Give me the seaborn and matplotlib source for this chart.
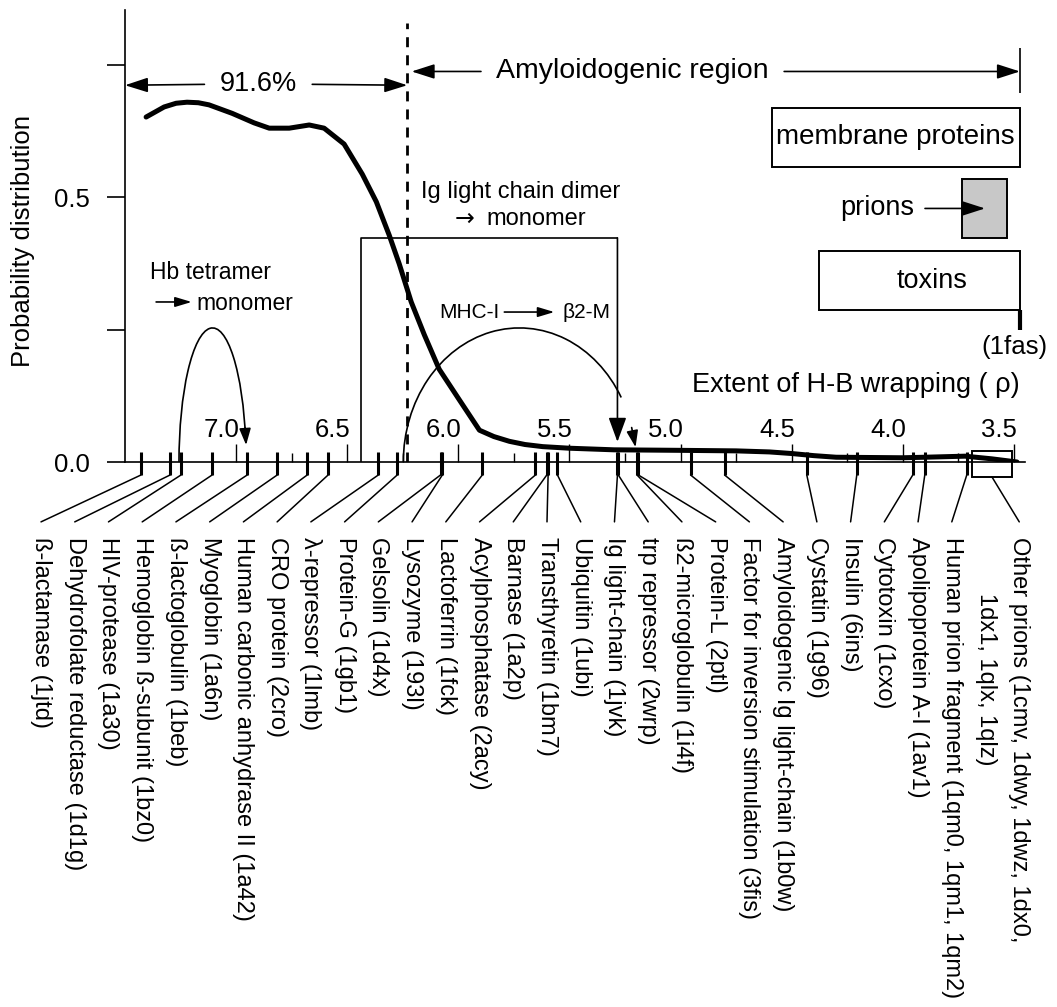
import numpy as np
import pandas as pd
import seaborn as sns
import matplotlib.pyplot as plt
from matplotlib.patches import Rectangle, Arc

sns.set_style("white")
plt.rcParams["font.family"] = ["Liberation Sans", "DejaVu Sans"]
plt.rcParams["text.color"] = "black"
plt.rcParams["axes.labelcolor"] = "black"
plt.rcParams["xtick.color"] = "black"
plt.rcParams["ytick.color"] = "black"

# probability distribution of rho
rho_curve = [7.405, 7.324, 7.27, 7.221, 7.17, 7.122, 7.018, 6.919, 6.851, 6.761,
             6.671, 6.604, 6.514, 6.432, 6.369, 6.311, 6.266, 6.212, 6.153, 6.086,
             5.995, 5.905, 5.84, 5.77, 5.70, 5.62, 5.50, 5.30, 5.00, 4.75,
             4.60, 4.50, 4.40, 4.30, 4.00, 3.90, 3.72, 3.60, 3.486]
prob_curve = [0.651, 0.670, 0.677, 0.679, 0.678, 0.674, 0.658, 0.640, 0.630, 0.630,
              0.636, 0.630, 0.600, 0.543, 0.491, 0.428, 0.374, 0.302, 0.240, 0.175,
              0.117, 0.060, 0.048, 0.039, 0.033, 0.029, 0.026, 0.023, 0.022, 0.021,
              0.019, 0.016, 0.012, 0.009, 0.008, 0.009, 0.011, 0.006, 0.0]

# proteins and their rho values (ticks under the axis)
proteins = ["ß-lactamase (1jtd)", "Dehydrofolate reductase (1d1g)", "HIV-protease (1a30)",
            "Hemoglobin ß-subunit (1bz0)", "ß-lactoglobulin (1beb)", "Myoglobin (1a6n)",
            "Human carbonic anhydrase II (1a42)", "CRO protein (2cro)", "λ-repressor (1lmb)",
            "Protein-G (1gb1)", "Gelsolin (1d4x)", "Lysozyme (193l)", "Lactoferrin (1fck)",
            "Acylphosphatase (2acy)", "Barnase (1a2p)", "Transthyretin (1bm7)",
            "Ubiquitin (1ubi)", "Ig light-chain (1jvk)", "trp repressor (2wrp)",
            "ß2-microglobulin (1i4f)", "Protein-L (2ptl)",
            "Factor for inversion stimulation (3fis)",
            "Amyloidogenic Ig light-chain (1b0w)", "Cystatin (1g96)", "Insulin (6ins)",
            "Cytotoxin (1cxo)", "Apolipoprotein A-I (1av1)",
            "Human prion fragment (1qm0, 1qm1, 1qm2)"]
protein_rho = [7.428, 7.297, 7.248, 7.108, 6.950, 6.815, 6.680, 6.586, 6.360,
               6.275, 6.080, 6.072, 5.892, 5.653, 5.602, 5.596, 5.554, 5.284, 5.280,
               5.196, 5.190, 4.955, 4.802, 4.432, 4.207, 3.955, 3.901, 3.712]
other_prions = ["Other prions (1cmv, 1dwy, 1dwz, 1dx0,", "1dx1, 1qlx, 1qlz)"]
other_prions_rho = (3.509, 3.689)

major_ticks = [7.0, 6.5, 6.0, 5.5, 5.0, 4.5, 4.0, 3.5]
minor_ticks = [7.25, 6.75, 6.25, 5.75, 5.25, 4.75, 4.25, 3.75]

threshold = 6.23
below_pct = "91.6%"

# family ranges (rho_min, rho_max, p_low, p_high)
membrane = (3.473, 4.59, 0.557, 0.668)
prions = (3.532, 3.734, 0.423, 0.534)
toxins = (3.473, 4.378, 0.287, 0.398)

fig = plt.figure(figsize=(10.57, 10.07), dpi=100)
ax = fig.add_axes([125 / 1057, 545 / 1007, 900 / 1057, 452 / 1007])

df = pd.DataFrame({"rho": rho_curve, "p": prob_curve})
sns.lineplot(data=df, x="rho", y="p", ax=ax, color="black", lw=3.6,
             sort=False, estimator=None, zorder=5)

ax.set_xlim(7.5, 3.45)
ax.set_ylim(0, 0.853)
ax.set_xlabel("")
ax.set_ylabel("Probability distribution", fontsize=18.5)
ax.yaxis.set_label_coords(-0.1, 0.49)
for s in ["top", "right"]:
    ax.spines[s].set_visible(False)
for s in ["left", "bottom"]:
    ax.spines[s].set_linewidth(1.2)
    ax.spines[s].set_color("black")

ax.set_yticks([0, 0.25, 0.5, 0.75])
ax.set_yticklabels(["0.0", "", "0.5", ""])
ax.tick_params(axis="y", direction="out", length=13, width=1.2, pad=12,
               labelsize=18.5, left=True)
ax.set_xticks(major_ticks)
ax.set_xticks(minor_ticks, minor=True)
ax.tick_params(axis="x", which="major", direction="in", length=13, width=1.0,
               labelbottom=False, bottom=True)
ax.tick_params(axis="x", which="minor", direction="in", length=6.5, width=1.0,
               bottom=True)
for t in major_ticks:
    ax.text(t - 0.015, 0.047, f"{t:.1f}", ha="right", va="baseline", fontsize=18.5)

# protein ticks, leader lines and labels
slot0, step = 7.878, 0.1518
tick_lo, tick_hi, lead_end, lab_top = -0.0245, 0.019, -0.113, -0.141
ax.vlines(protein_rho, tick_lo, tick_hi, color="black", lw=2.2, clip_on=False, zorder=6)
for i, (name, r) in enumerate(zip(proteins, protein_rho)):
    sx = slot0 - step * i
    ax.plot([r, sx], [tick_lo, lead_end], color="black", lw=1.1, clip_on=False)
    ax.text(sx, lab_top, name, rotation=-90, rotation_mode="anchor", ha="left",
            va="center", fontsize=17, clip_on=False)
ax.add_patch(Rectangle((other_prions_rho[0], -0.028), other_prions_rho[1] - other_prions_rho[0],
                       0.049, fill=False, ec="black", lw=1.4, clip_on=False, zorder=6))
sx29 = slot0 - step * 29
ax.plot([np.mean(other_prions_rho), sx29], [-0.028, lead_end], color="black", lw=1.1,
        clip_on=False)
ax.text(sx29, lab_top, other_prions[0], rotation=-90, rotation_mode="anchor", ha="left",
        va="center", fontsize=17, clip_on=False)
ax.text(slot0 - step * 28, -0.247, other_prions[1], rotation=-90, rotation_mode="anchor",
        ha="left", va="center", fontsize=17, clip_on=False)

# threshold line and region arrows
ax.vlines(threshold, 0, 0.828, color="black", lw=2.0, linestyles=(0, (3.6, 2.9)))
head = "-|>,head_length=1.4,head_width=0.45"
akw = dict(arrowstyle=head, color="black", lw=1.2, shrinkB=0, mutation_scale=10)
t1 = ax.text((7.5 + threshold) / 2 + 0.035, 0.713, below_pct, ha="center", va="center",
             fontsize=19.5)
ax.annotate("", xy=(7.5, 0.711), xytext=(0, 0.5), textcoords=t1,
            arrowprops=dict(akw, shrinkA=11))
ax.annotate("", xy=(threshold, 0.711), xytext=(1, 0.5), textcoords=t1,
            arrowprops=dict(akw, shrinkA=11))
t2 = ax.text(5.216, 0.737, "Amyloidogenic region", ha="center", va="center", fontsize=20.5)
ax.annotate("", xy=(threshold - 0.02, 0.737), xytext=(0, 0.5), textcoords=t2,
            arrowprops=dict(akw, shrinkA=11))
ax.annotate("", xy=(membrane[0], 0.737), xytext=(1, 0.5), textcoords=t2,
            arrowprops=dict(akw, shrinkA=11))
ax.vlines(membrane[0], 0.696, 0.781, color="black", lw=1.2)

# protein families
for (r0, r1, p0, p1), fc in [(membrane, "none"), (prions, "#c8c8c8"), (toxins, "none")]:
    ax.add_patch(Rectangle((r0, p0), r1 - r0, p1 - p0, fc=fc, ec="black", lw=1.4,
                           clip_on=False))
ax.text(np.mean(membrane[:2]), np.mean(membrane[2:]), "membrane proteins", ha="center",
        va="center", fontsize=20)
ax.text(3.869, np.mean(toxins[2:]), "toxins", ha="center", va="center", fontsize=19.5)
ax.text(4.113, np.mean(prions[2:]), "prions", ha="center", va="center", fontsize=19.5)
ax.annotate("", xy=(3.63, np.mean(prions[2:])), xytext=(3.90, np.mean(prions[2:])),
            arrowprops=dict(akw, shrinkA=0))
ax.vlines(toxins[0], 0.249, toxins[2], color="black", lw=3, clip_on=False)
ax.text(toxins[0] + 0.025, 0.217, "(1fas)", ha="center", va="center", fontsize=18.5,
        clip_on=False)
ax.text(membrane[0], 0.145, "Extent of H-B wrapping ( ρ)", ha="right", va="center",
        fontsize=19.5)

# Ig light chain dimer -> monomer
ig_l, ig_r, ig_top = 6.437, 5.284, 0.423
ax.plot([ig_l, ig_l, ig_r], [0, ig_top, ig_top], color="black", lw=1.2)
ax.annotate("", xy=(ig_r, 0.038), xytext=(ig_r, ig_top),
            arrowprops=dict(arrowstyle="-|>,head_length=1.5,head_width=0.55",
                            color="black", lw=1.2, shrinkA=0, shrinkB=0, mutation_scale=10))
ax.text(5.72, 0.51, "Ig light chain dimer", ha="center", va="center", fontsize=17)
ax.text(5.973, 0.458, "→", ha="center", va="center", fontsize=17, family="DejaVu Sans")
ax.text(5.649, 0.458, "monomer", ha="center", va="center", fontsize=17)

# Hb tetramer -> monomer, MHC-I -> b2-M
for cx, w, tip in [(7.106, 0.302, 0.032), (5.725, 1.045, 0.028)]:
    h = 0.253
    stop = 0.065
    th2 = 180 - np.degrees(np.arcsin(stop / h))
    ax.add_patch(Arc((cx, 0), w, 2 * h, theta1=0, theta2=th2, color="black", lw=1.2))
    xe = cx + w / 2 * np.cos(np.radians(th2))
    ax.annotate("", xy=(cx - w / 2, tip), xytext=(xe, stop),
                arrowprops=dict(arrowstyle="-|>,head_length=1.0,head_width=0.35",
                                color="black", lw=1.2, shrinkA=0, shrinkB=0,
                                mutation_scale=10))

ax.text(7.113, 0.357, "Hb tetramer", ha="center", va="center", fontsize=16.5)
ax.text(6.96, 0.300, "monomer", ha="center", va="center", fontsize=16.5)
ax.annotate("", xy=(7.20, 0.302), xytext=(7.36, 0.302),
            arrowprops=dict(arrowstyle="-|>,head_length=1.0,head_width=0.3",
                            color="black", lw=1.2, shrinkA=0, shrinkB=0, mutation_scale=10))
ax.text(5.95, 0.283, "MHC-I", ha="center", va="center", fontsize=15)
ax.annotate("", xy=(5.568, 0.283), xytext=(5.793, 0.283),
            arrowprops=dict(arrowstyle="-|>,head_length=1.0,head_width=0.3",
                            color="black", lw=1.2, shrinkA=0, shrinkB=0, mutation_scale=10))
ax.text(5.423, 0.283, "β2-M", ha="center", va="center", fontsize=15)

fig.savefig("out.png", dpi=100)
